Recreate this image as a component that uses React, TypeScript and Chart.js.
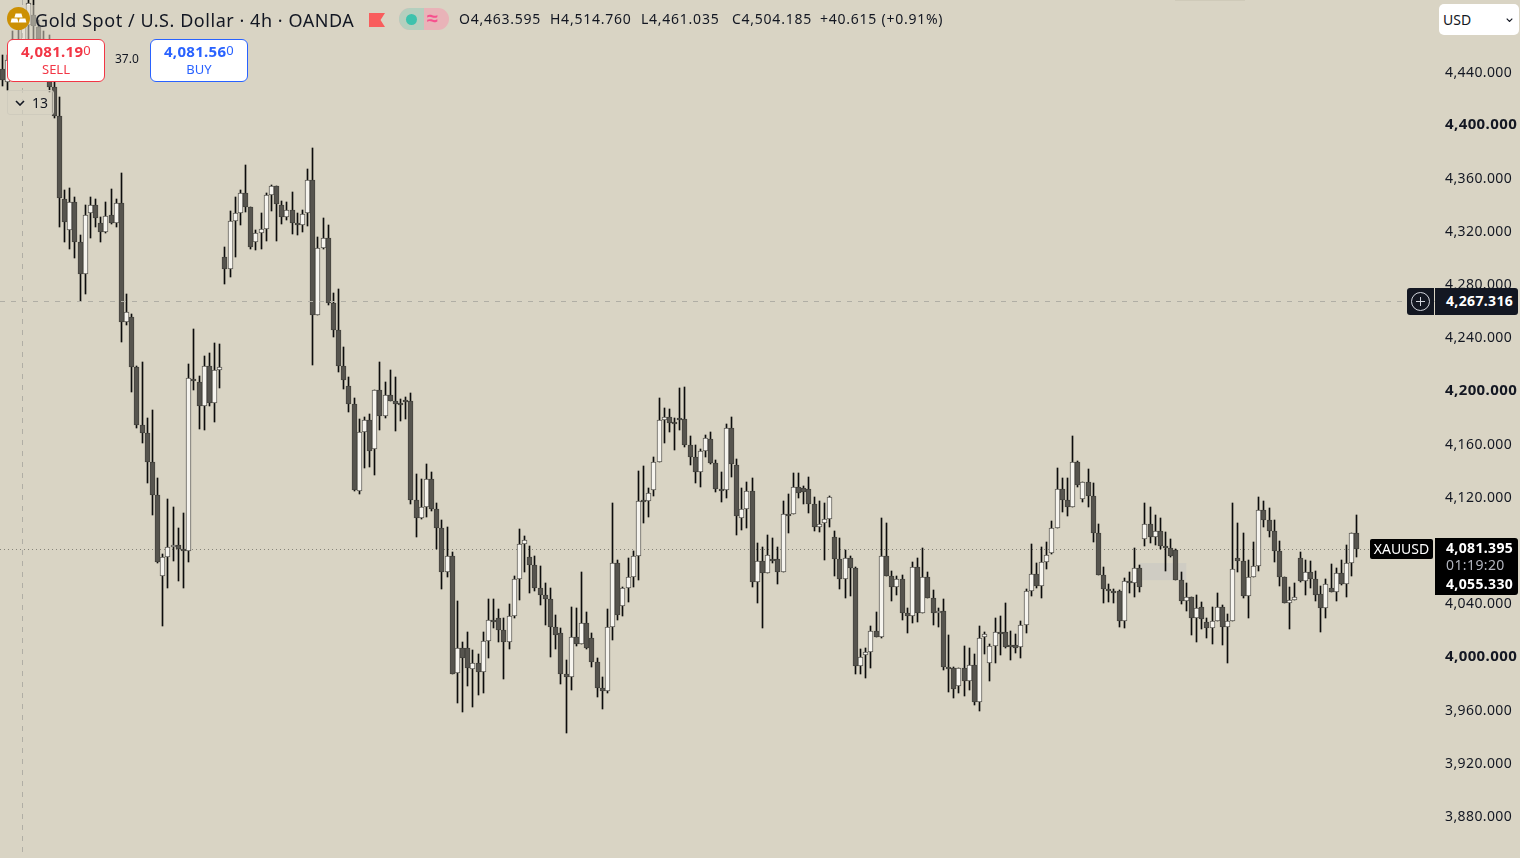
import React, { useEffect, useRef } from "react";
import { Chart, registerables } from "chart.js";

Chart.register(...registerables);

const opens = [
  4441, 4431, 4448, 4463, 4455, 4474, 4482, 4473, 4464, 4455,
  4427.6, 4405.7, 4343.3, 4320, 4341, 4311, 4287, 4333, 4339, 4325,
  4318.5, 4331, 4325, 4340, 4251, 4254.6, 4217, 4173, 4167, 4145.5,
  4120.6, 4059.7, 4074, 4081.5, 4083, 4080, 4078.5, 4207.6, 4206, 4188,
  4217.7, 4190, 4214.7, 4300, 4291, 4327, 4333, 4348, 4337.5, 4311,
  4318, 4321, 4346, 4353, 4338.8, 4330, 4335, 4325.5, 4323.5, 4332.5,
  4358, 4256.3, 4306.7, 4314, 4265.3, 4244.8, 4217.7, 4202.6, 4189, 4123.7,
  4168.3, 4177, 4155, 4199.6, 4180, 4195.9, 4191.4, 4190, 4192.5, 4191.6,
  4116.9, 4103.4, 4111.4, 4132.7, 4110.1, 4095.8, 4062.7, 4074.8, 3986.5, 4005.3,
  4005.3, 3989.5, 3994, 3987.3, 4010.8, 4027, 4027.9, 4019, 4009.9, 4029.6,
  4057.5, 4083.8, 4074.3, 4067.8, 4050.5, 4045.2, 4042.2, 4021.6, 4016.6, 3985.8,
  3983.5, 4013.6, 4008.6, 4024.1, 4012.9, 3994.8, 3975.3, 3973.2, 4021.1, 4069.3,
  4037.2, 4050.5, 4059, 4074.8, 4116.9, 4116.1, 4124.4, 4145.7, 4177, 4179.3,
  4175.8, 4178.8, 4178, 4158.3, 4149.5, 4138, 4154, 4162.8, 4145, 4125.2,
  4124.4, 4171.3, 4143.2, 4103.4, 4109.9, 4123.7, 4055.2, 4071, 4061.8, 4072.5,
  4072.3, 4062.7, 4106.8, 4106.4, 4126.7, 4125.7, 4125.2, 4113.9, 4096.6, 4099.4,
  4102.6, 4089.3, 4072.3, 4057.3, 4073, 4065.5, 3992, 4000.3, 4002.3, 4018.1,
  4014, 4074.8, 4059.7, 4051.2, 4057.5, 4031.7, 4029.6, 4066.5, 4031.7, 4059.2,
  4043.2, 4031.7, 4033.4, 3991, 3990.8, 3977.2, 3990.5, 3980.5, 3992.6, 3964.7,
  4013.6, 3994, 4007.1, 4017.6, 4017.6, 4007.8, 4007.6, 4006.1, 4022.6, 4048.2,
  4061, 4052.2, 4070.3, 4076.8, 4095.8, 4125.2, 4116.9, 4111.6, 4145.5, 4117.6,
  4130.7, 4119.9, 4092.3, 4060.5, 4049.9, 4048.5, 4048.2, 4025.6, 4056, 4054.2,
  4065.7, 4088, 4098.8, 4088.8, 4093.6, 4082.3, 4080.6, 4079.3, 4056.7, 4040.9,
  4043.7, 4027.9, 4036.4, 4024.9, 4020.6, 4025.6, 4036.4, 4021.4, 4025.6, 4073,
  4071, 4044.7, 4059.2, 4067.2, 4109.4, 4101.9, 4093.6, 4078.5, 4059.2, 4039.2,
  4041.4, 4073.3, 4056, 4062.5, 4057.3, 4046.2, 4035.4, 4050.7, 4047.5, 4061.8,
  4053.5, 4069.3, 4092.3,
];

const highs = [
  4452, 4452, 4470, 4474, 4485, 4500, 4495, 4478, 4470, 4467,
  4448, 4420, 4350, 4352, 4345, 4316, 4339, 4345, 4343, 4330,
  4341, 4351, 4343, 4363, 4272, 4257, 4218, 4221, 4178.6, 4185,
  4133.5, 4076, 4117.6, 4111.6, 4096, 4107, 4219, 4245.5, 4210, 4225,
  4227.5, 4235, 4234, 4307.4, 4334, 4345, 4350, 4369, 4337.5, 4320,
  4332.7, 4347.8, 4353.8, 4353, 4341.8, 4341, 4348.6, 4333, 4335, 4365.9,
  4381.4, 4314.6, 4329, 4323.8, 4272.6, 4275.6, 4232, 4209.6, 4193.6, 4177.8,
  4179.6, 4182, 4199.6, 4220.7, 4205.9, 4214.7, 4209.6, 4192.9, 4194.4, 4197.4,
  4136.5, 4132.7, 4144, 4138, 4114.6, 4101.9, 4096.6, 4078, 4041.2, 4010.3,
  4017.8, 4004, 4000.8, 4017.8, 4042.7, 4042.7, 4035, 4028.4, 4038.4, 4060,
  4094.8, 4090, 4082.3, 4075, 4067.5, 4054.2, 4050.9, 4030.4, 4020.9, 3996.5,
  4036.6, 4035.9, 4062.5, 4032.9, 4017, 3998.3, 3983.5, 4034.7, 4114.4, 4071.8,
  4051.7, 4073, 4078.8, 4138.9, 4142.7, 4125.7, 4149.5, 4193.8, 4185.9, 4185.1,
  4178.3, 4200.9, 4201.7, 4165.3, 4158.3, 4155, 4165.8, 4167.8, 4147, 4138.2,
  4173.8, 4179.1, 4147.5, 4125.7, 4130.2, 4133.2, 4084.8, 4081.8, 4090.6, 4088.5,
  4081.8, 4116.4, 4121.2, 4137, 4137, 4127.4, 4134, 4118.9, 4116.4, 4114.4,
  4120.1, 4093.8, 4088.5, 4079.3, 4075, 4066.7, 4005, 4005.8, 4022.4, 4032.9,
  4103.1, 4099.4, 4063.7, 4059.7, 4060.5, 4035.9, 4070.5, 4073, 4080.6, 4063,
  4049.2, 4035.4, 4042.2, 4015.3, 3991, 3990.5, 4007.3, 4005.8, 4001, 4022.4,
  4017.8, 4008.6, 4027.9, 4029.9, 4039.7, 4018.6, 4016.1, 4026.1, 4050.2, 4083.6,
  4069.3, 4081.8, 4085.5, 4101.3, 4140.7, 4133.7, 4133.2, 4165, 4146.5, 4130.7,
  4140, 4129.4, 4098.6, 4066.3, 4053.5, 4049.7, 4049.2, 4058, 4063, 4081,
  4068, 4114.9, 4111.4, 4105.6, 4103.1, 4093, 4088, 4080, 4063, 4054.2,
  4044.2, 4045.4, 4040.4, 4027.9, 4036.6, 4046.7, 4037.9, 4031.1, 4114.9, 4099.4,
  4091.8, 4071.8, 4085.5, 4119.4, 4116.4, 4110.6, 4101.9, 4086.3, 4059.2, 4051.7,
  4054.2, 4078, 4071.8, 4071, 4063.7, 4052.2, 4057.3, 4068.8, 4065.5, 4071.8,
  4083, 4092.3, 4105.6,
];

const lows = [
  4428, 4425, 4444, 4449, 4452, 4463, 4464, 4455, 4440, 4424,
  4404, 4322, 4311, 4306, 4299, 4267, 4272, 4314, 4322, 4311,
  4318, 4324.5, 4322, 4236, 4248.5, 4198, 4171, 4160, 4129.6, 4106,
  4069.5, 4022, 4051, 4071, 4056, 4051, 4070, 4199.7, 4170, 4169.5,
  4187.6, 4176, 4201, 4279.4, 4285, 4300, 4323.8, 4333.8, 4305.7, 4305,
  4306, 4312, 4334.5, 4312, 4324.5, 4327.5, 4317, 4316, 4318.7, 4323,
  4218.4, 4256, 4305.7, 4264, 4239.5, 4213, 4200.4, 4183, 4124, 4121.4,
  4141, 4141.7, 4135.7, 4169.5, 4178.6, 4191.6, 4168.8, 4176.3, 4177.8, 4113.9,
  4089.3, 4103, 4104.3, 4108.9, 4080, 4049.9, 4059.2, 3985.8, 3964, 3957.7,
  3977.2, 3961.4, 3970.2, 3972, 3997.8, 4020.9, 4010.3, 3982, 4004.6, 4028.4,
  4041.7, 4063, 4047, 4048.7, 4037.9, 4022.9, 3999, 4004.6, 3978.5, 3941.4,
  3974, 4007.1, 4008.6, 4004.6, 3991.5, 3969, 3959.5, 3972, 4011.6, 4026.6,
  4029.6, 4040.4, 4051.7, 4056.7, 4099.4, 4104.3, 4120.1, 4145.7, 4159.5, 4167.8,
  4154.5, 4169.5, 4156.5, 4143.2, 4129.9, 4126.9, 4149, 4144, 4123.1, 4115.6,
  4118.6, 4134.4, 4090.6, 4094.3, 4095.6, 4051.2, 4039.2, 4020.4, 4061.8, 4069.3,
  4053.5, 4062.7, 4092.3, 4106.4, 4118.2, 4113.7, 4107.3, 4093.6, 4093, 4071.5,
  4096.8, 4060, 4049.7, 4043, 4044.7, 3985.8, 3985.8, 3982.8, 3990.7, 4013.6,
  4012.9, 4059.7, 4041.2, 4045.4, 4026.6, 4016.6, 4024.6, 4025.4, 4031.7, 4043.2,
  4022.9, 4021.6, 3989, 3972.7, 3968.2, 3972, 3969.7, 3974, 3962.7, 3958.4,
  4001, 3981, 3994.5, 4000.3, 4005.3, 3996.5, 4002, 3998.3, 4017, 4044.9,
  4050.5, 4043.4, 4065.2, 4076.3, 4095.8, 4108, 4105.1, 4111.6, 4126.9, 4115.6,
  4111.4, 4085.5, 4060.5, 4039.2, 4040, 4039.7, 4021.6, 4021, 4046.7, 4043.7,
  4047.9, 4082.5, 4084.3, 4083, 4080, 4063.7, 4074.3, 4056.7, 4038.7, 4033.6,
  4015.3, 4010.3, 4019.9, 4012.9, 4008.6, 4025.6, 4008, 3994.5, 4025.6, 4063,
  4043, 4027.9, 4059.2, 4063.7, 4096.8, 4089.3, 4070.5, 4052.2, 4039.2, 4019.6,
  4041.4, 4055.4, 4045.4, 4050.5, 4041.2, 4017.8, 4028.4, 4047.5, 4041.2, 4053,
  4044.2, 4059.7, 4074.3,
];

const closes = [
  4433, 4448, 4463, 4455, 4474, 4491, 4473.4, 4464, 4455, 4427.5,
  4405.7, 4344, 4326, 4341, 4311, 4287, 4331, 4339, 4329, 4318.5,
  4330.5, 4325, 4340, 4251, 4258, 4217, 4173, 4167, 4145.5, 4120.6,
  4070, 4074, 4081.5, 4083, 4080, 4078.5, 4209, 4207, 4188, 4217.7,
  4190, 4214.7, 4217, 4291, 4327, 4333, 4348, 4337.5, 4307.4, 4318,
  4321, 4346, 4353, 4339.3, 4330, 4335, 4325.5, 4323.5, 4332, 4358,
  4256.3, 4306.7, 4314, 4265.3, 4244.8, 4217.7, 4207, 4189, 4124.4, 4168.3,
  4177, 4153.8, 4199.6, 4180, 4195.9, 4191.6, 4189, 4188.4, 4192, 4116.9,
  4103.4, 4111.4, 4132.7, 4109.9, 4095.8, 4062.7, 4074.8, 3985.8, 4005.3, 3997.8,
  3990.3, 3994, 3987.3, 4010.8, 4027, 4024.9, 4019, 4009.9, 4029.6, 4057.5,
  4083.8, 4086.8, 4067.8, 4050.5, 4045.2, 4042.2, 4021.6, 4015.1, 3985.8, 3983.5,
  4013.6, 4008.6, 4024.1, 4005.3, 3994.8, 3975.3, 3973, 4021.1, 4069.3, 4030.4,
  4050.5, 4059, 4074.8, 4116.4, 4116.6, 4122.4, 4145.7, 4177, 4179.3, 4175,
  4174, 4178.6, 4158.3, 4149.5, 4138, 4154, 4163.8, 4144.5, 4125.2, 4124.7,
  4171.3, 4144, 4104.9, 4109.9, 4123.7, 4055.2, 4071, 4061.8, 4075.5, 4072.3,
  4062.7, 4106.4, 4106.5, 4126.7, 4122, 4123.1, 4113.9, 4096.6, 4098.6, 4102.4,
  4119.4, 4072.3, 4057.3, 4073, 4065.5, 3992, 3999, 4002.3, 4018.1, 4014,
  4074.8, 4059.7, 4051.2, 4057.5, 4031.7, 4029.6, 4066.5, 4031.7, 4059.2, 4043.2,
  4031.7, 4033.4, 3991, 3990.8, 3974.5, 3990.5, 3980.5, 3992.6, 3964.7, 4013,
  4016.1, 4007.1, 4017.6, 4017.4, 4006.1, 4006.1, 4006, 4022.6, 4048.2, 4061,
  4052.2, 4070.3, 4075.5, 4096, 4125.2, 4116.9, 4111.6, 4145.5, 4128.2, 4130.7,
  4119.9, 4092.3, 4060.5, 4049.7, 4048.2, 4046.7, 4025.9, 4056, 4054.2, 4065.7,
  4051.5, 4098.8, 4088.8, 4093.6, 4082.3, 4080.6, 4074.8, 4056.7, 4040.9, 4043.7,
  4027.9, 4035.4, 4027.2, 4020.6, 4025.6, 4036.4, 4021.4, 4025.6, 4065, 4071,
  4044.7, 4059.2, 4067.2, 4109.4, 4101.6, 4093.6, 4078.5, 4059.2, 4039.2, 4041.4,
  4043.9, 4056, 4062.5, 4057.3, 4045.7, 4035.4, 4053.5, 4047.5, 4061.8, 4053.5,
  4069.7, 4092.3, 4080,
];

const yTicks = [4440, 4400, 4360, 4320, 4280, 4240, 4200, 4160, 4120, 4080, 4040, 4000, 3960, 3920, 3880];
const boldTicks = [4400, 4200, 4000];
const futureBars = 15;
const crosshairPrice = 4266.6;
const crosshairBar = 4;
const lastPriceLine = 4080;
const zoneStartBar = 220;
const zoneEndBar = 229;
const zoneTop = 4069.5;
const zoneBottom = 4056.7;

const BG = "#d9d4c4";
const INK = "#131722";
const FONT = '"Noto Sans", sans-serif';

const categories = Array.from({ length: opens.length + futureBars }, (_, i) => String(i));
const fmt = (v: number) =>
  v.toLocaleString("en-US", { minimumFractionDigits: 3, maximumFractionDigits: 3 });

const snapPlugin = {
  id: "snap",
  afterDatasetsUpdate(chart: any) {
    chart.data.datasets.forEach((_: any, d: number) => {
      chart.getDatasetMeta(d).data.forEach((el: any) => {
        if (el.skip || !isFinite(el.x)) return;
        el.x = Math.floor(el.x) + 0.5;
        el.y = Math.round(el.y);
        el.base = Math.round(el.base);
        if (d === 0 && Math.abs(el.base - el.y) < 2) el.base = el.y + 2;
      });
    });
  },
};

const markupPlugin = {
  id: "markup",
  beforeDraw(chart: any) {
    chart.ctx.letterSpacing = "0.4px";
    const axis = chart.scales.y;
    if (!axis.$labelsNudged) {
      axis.$labelsNudged = true;
      axis.getLabelItems(chart.chartArea).forEach((item: any) => {
        const t = item.options.translation;
        const bold = item.font && String(item.font.weight) === "bold";
        t[1] = Math.round(t[1]) + (bold ? 1 : 2);
      });
    }
  },
  beforeDatasetsDraw(chart: any) {
    const { ctx, scales } = chart;
    const { x, y } = scales;
    ctx.save();
    ctx.fillStyle = "#cfccc3";
    const zx0 = x.getPixelForValue(zoneStartBar);
    const zx1 = x.getPixelForValue(zoneEndBar);
    const zy0 = y.getPixelForValue(zoneTop);
    const zy1 = y.getPixelForValue(zoneBottom);
    ctx.fillRect(zx0, zy0, zx1 - zx0, zy1 - zy0);
    const ly = Math.round(y.getPixelForValue(lastPriceLine)) + 0.5;
    ctx.strokeStyle = "#86847a";
    ctx.lineWidth = 1;
    ctx.setLineDash([1, 3]);
    ctx.beginPath();
    ctx.moveTo(0, ly);
    ctx.lineTo(1370, ly);
    ctx.stroke();
    ctx.restore();
  },
  afterDatasetsDraw(chart: any) {
    const { ctx, scales, chartArea } = chart;
    const { x, y } = scales;
    const cy = Math.round(y.getPixelForValue(crosshairPrice)) + 0.5;
    const cx = Math.floor(x.getPixelForValue(crosshairBar)) - 0.5;
    ctx.save();
    ctx.strokeStyle = "#b0aea5";
    ctx.lineWidth = 1;
    ctx.setLineDash([5, 6]);
    ctx.beginPath();
    ctx.moveTo(0, cy);
    ctx.lineTo(chartArea.right, cy);
    ctx.moveTo(cx, 0);
    ctx.lineTo(cx, chartArea.bottom);
    ctx.stroke();
    ctx.restore();
  },
};

const abs = (left: number, top: number, extra: React.CSSProperties = {}): React.CSSProperties => ({
  position: "absolute",
  left,
  top,
  fontFamily: FONT,
  whiteSpace: "nowrap",
  ...extra,
});

const Chevron = ({ left, top, w, color }: { left: number; top: number; w: number; color: string }) => (
  <svg style={{ position: "absolute", left, top }} width={w} height={w * 0.6} viewBox="0 0 10 6">
    <path d="M1 1 L5 5 L9 1" fill="none" stroke={color} strokeWidth="1.6" />
  </svg>
);

const TradeBox = ({
  left, color, price, tail, label, }: { left: number; color: string; price: string; tail: string; label: string }) => (
  <div
    style={abs(left, 39, {
      width: 98,
      height: 43,
      boxSizing: "border-box",
      background: "#fff",
      border: `1px solid ${color}`,
      borderRadius: 6,
      color,
      textAlign: "center",
    })}
  >
    <div style={{ fontSize: 15, fontWeight: 700, lineHeight: "17px", marginTop: 2, letterSpacing: 0.3 }}>
      {price}
      <span style={{ fontSize: 13, fontWeight: 400, verticalAlign: 2 }}>{tail}</span>
    </div>
    <div style={{ fontSize: 13, lineHeight: "17px", marginTop: 1 }}>{label}</div>
  </div>
);

export default function App() {
  const ref = useRef<HTMLCanvasElement>(null);

  useEffect(() => {
    if (!ref.current) return;
    const isUp = opens.map((o, i) => closes[i] >= o);
    const chart = new Chart(ref.current, {
      type: "bar",
      data: {
        labels: categories,
        datasets: [
          {
            label: "Body",
            data: opens.map((o, i) => [o, closes[i]]),
            barThickness: 5,
            backgroundColor: isUp.map((u) => (u ? "#f6f4ee" : "#56544e")),
            borderColor: isUp.map((u) => (u ? "#5e5c56" : "#45433e")),
            borderWidth: 1,
            borderSkipped: false,
          },
          {
            label: "Wick",
            data: lows.map((l, i) => [l, highs[i]]),
            barThickness: 1,
            backgroundColor: "#0c0c0c",
            borderWidth: 0,
          },
        ] as any,
      },
      options: {
        animation: false,
        responsive: false,
        devicePixelRatio: 1,
        layout: { padding: 0 },
        datasets: { bar: { grouped: false } },
        plugins: { legend: { display: false }, tooltip: { enabled: false } },
        scales: {
          x: {
            display: false,
            offset: true,
            grid: { display: false },
          },
          y: {
            position: "right",
            min: 3847.7,
            max: 4493.03,
            grid: { display: false, drawTicks: false, tickLength: 0 },
            border: { display: false },
            afterBuildTicks: (axis: any) => {
              axis.ticks = yTicks.map((value) => ({ value }));
            },
            afterFit: (axis: any) => {
              axis.width = 83;
              axis.paddingTop = 0;
              axis.paddingBottom = 0;
            },
            ticks: {
              autoSkip: false,
              padding: 8,
              crossAlign: "near",
              color: INK,
              callback: (v: any) => fmt(Number(v)),
              font: (ctx: any) => {
                const bold = ctx.tick && boldTicks.includes(ctx.tick.value);
                return { family: "Noto Sans", size: bold ? 15 : 14, weight: bold ? "bold" : "normal" };
              },
            },
          },
        },
      } as any,
      plugins: [snapPlugin, markupPlugin] as any,
    });
    return () => chart.destroy();
  }, []);

  const ohlc: [number, string][] = [
    [459, "O4,463.595"],
    [550, "H4,514.760"],
    [641, "L4,461.035"],
    [732, "C4,504.185"],
    [820, "+40.615 (+0.91%)"],
  ];

  return (
    <div style={{ position: "fixed", left: 0, top: 0, width: 1520, height: 858, overflow: "hidden", background: BG }}>
      <canvas ref={ref} width={1520} height={858} style={{ display: "block", width: 1520, height: 858 }} />

      <div style={{ position: "absolute", left: 0, top: 5, width: 60, height: 34, background: "rgba(217,212,196,0.55)" }} />
      <div style={{ position: "absolute", left: 1175, top: 0, width: 70, height: 1, background: "#cfcab9" }} />

      <svg style={{ position: "absolute", left: 7, top: 7 }} width={23} height={23} viewBox="0 0 23 23">
        <circle cx="11.5" cy="11.5" r="11.5" fill="#cc9004" />
        <path d="M8.6 6.4 h5.8 l1.2 4 h-8.2z M4.6 11.6 h5.8 l1 3.8 h-7.8z M12.6 11.6 h5.8 l1 3.8 h-7.8z" fill="#fff" />
      </svg>
      <div style={abs(35, 7, { fontSize: 18, lineHeight: "26px", color: INK, letterSpacing: 0.55 })}>
        Gold Spot / U.S. Dollar · 4h · OANDA
      </div>
      <div
        style={{
          position: "absolute", left: 369, top: 13, width: 16, height: 14, background: "#f95d5d",
          clipPath: "polygon(0 0, 100% 0, 72% 50%, 100% 100%, 0 100%)",
        }}
      />
      <div style={{ position: "absolute", left: 399, top: 8, width: 50, height: 22, borderRadius: 11, overflow: "hidden", background: "#e9b3b8" }}>
        <div style={{ width: 25, height: 22, background: "#b4cfbe" }} />
        <div style={{ position: "absolute", left: 7, top: 5.5, width: 11, height: 11, borderRadius: 6, background: "#3cc2ad" }} />
        <div style={abs(28, -2, { fontSize: 20, lineHeight: "24px", color: "#f7508e", fontWeight: 700 })}>≈</div>
      </div>
      {ohlc.map(([left, text]) => (
        <div key={text} style={abs(left, 9, { fontSize: 14, lineHeight: "20px", color: INK, letterSpacing: 0.75 })}>
          {text}
        </div>
      ))}

      <TradeBox left={7} color="#f23645" price="4,081.19" tail="0" label="SELL" />
      <div style={abs(115, 51, { fontSize: 12, lineHeight: "16px", color: INK })}>37.0</div>
      <TradeBox left={150} color="#2962ff" price="4,081.56" tail="0" label="BUY" />

      <div
        style={{
          position: "absolute", left: 7, top: 90, width: 47, height: 25, boxSizing: "border-box",
          border: "1px solid #cfcbbd", borderRadius: 3, background: "rgba(217,212,196,0.6)",
        }}
      />
      <Chevron left={15} top={100} w={10} color={INK} />
      <div style={abs(32, 94, { fontSize: 14, lineHeight: "18px", color: INK })}>13</div>

      <div style={{ position: "absolute", left: 1439, top: 4, width: 80, height: 31, background: "#fff", borderRadius: 5 }} />
      <div style={abs(1443, 10, { fontSize: 14, lineHeight: "20px", color: INK })}>USD</div>
      <Chevron left={1506} top={18} w={7} color={INK} />

      <div style={{ position: "absolute", left: 1407, top: 288, width: 27, height: 27, background: "#131722", borderRadius: "3px 0 0 3px" }}>
        <svg width={27} height={27} viewBox="0 0 27 27">
          <circle cx="13.5" cy="13.5" r="9" fill="none" stroke="#d1d4dc" strokeWidth="1" />
          <path d="M9 13.5 H18 M13.5 9 V18" stroke="#d1d4dc" strokeWidth="1" />
        </svg>
      </div>
      <div
        style={abs(1435, 288, {
          width: 83, height: 27, background: "#131722", color: "#fff", fontSize: 14, fontWeight: 700,
          lineHeight: "25px", paddingLeft: 11, boxSizing: "border-box", borderRadius: "0 3px 3px 0", letterSpacing: 0.35,
        })}
      >
        {fmt(4267.316)}
      </div>

      <div
        style={abs(1370, 539, {
          width: 63, height: 20, background: "#000", color: "#fff", fontSize: 14, lineHeight: "20px",
          textAlign: "center", borderRadius: 2,
        })}
      >
        XAUUSD
      </div>
      <div
        style={{
          position: "absolute", left: 1435, top: 538, width: 83, height: 57, background: "#000", borderRadius: "0 3px 3px 0",
        }}
      />
      <div style={abs(1446, 538, { fontSize: 14, fontWeight: 700, lineHeight: "19px", color: "#fff", letterSpacing: 0.35 })}>
        {fmt(4081.395)}
      </div>
      <div style={abs(1446, 555, { fontSize: 14, lineHeight: "19px", color: "#b2b5be", letterSpacing: 0.4 })}>01:19:20</div>
      <div style={abs(1446, 574, { fontSize: 14, fontWeight: 700, lineHeight: "19px", color: "#fff", letterSpacing: 0.35 })}>
        {fmt(4055.33)}
      </div>
    </div>
  );
}
